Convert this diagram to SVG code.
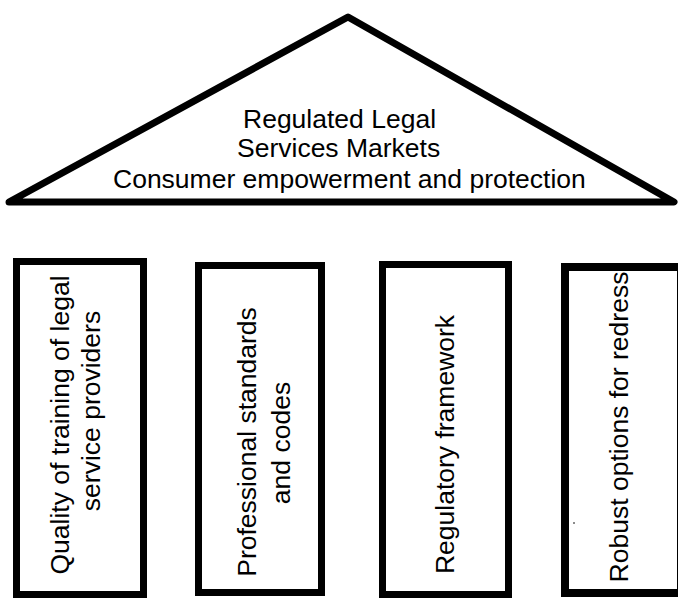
<svg xmlns="http://www.w3.org/2000/svg" width="678" height="599" viewBox="0 0 678 599">
<style>
  .shape { fill: #ffffff; stroke: #000000; }
  .lbl { font-family: "Liberation Sans", Arial, sans-serif; font-size: 26.5px; fill: #000000; }
  .mid { text-anchor: middle; }
</style>
<rect x="0" y="0" width="678" height="599" fill="#ffffff"/>
<g id="roof">
  <polygon class="shape" points="9,202 348,17 674,202" stroke-width="7" stroke-linejoin="round"/>
  <text class="lbl" x="243" y="128">Regulated Legal</text>
  <text class="lbl" x="237" y="157">Services Markets</text>
  <text class="lbl" x="113" y="188">Consumer empowerment and protection</text>
</g>
<g id="pillar1">
  <rect class="shape" x="16.5" y="261.5" width="127" height="333" stroke-width="7"/>
  <text class="lbl mid" transform="translate(69,425) rotate(-90)">Quality of training of legal</text>
  <text class="lbl mid" transform="translate(100,411) rotate(-90)">service providers</text>
</g>
<g id="pillar2">
  <rect class="shape" x="198.5" y="265.5" width="123" height="327" stroke-width="7"/>
  <text class="lbl mid" transform="translate(256,442) rotate(-90)">Professional standards</text>
  <text class="lbl mid" transform="translate(290,443) rotate(-90)">and codes</text>
</g>
<g id="pillar3">
  <rect class="shape" x="382.5" y="264.5" width="126" height="330" stroke-width="7"/>
  <text class="lbl mid" transform="translate(454,444.5) rotate(-90)">Regulatory framework</text>
</g>
<g id="pillar4">
  <rect class="shape" x="565" y="267" width="116" height="326" stroke-width="8"/>
  <text class="lbl mid" transform="translate(628,427) rotate(-90)">Robust options for redress</text>
  <circle cx="574" cy="523" r="1" fill="#666666"/>
</g>
<g id="connectors"></g>
</svg>
